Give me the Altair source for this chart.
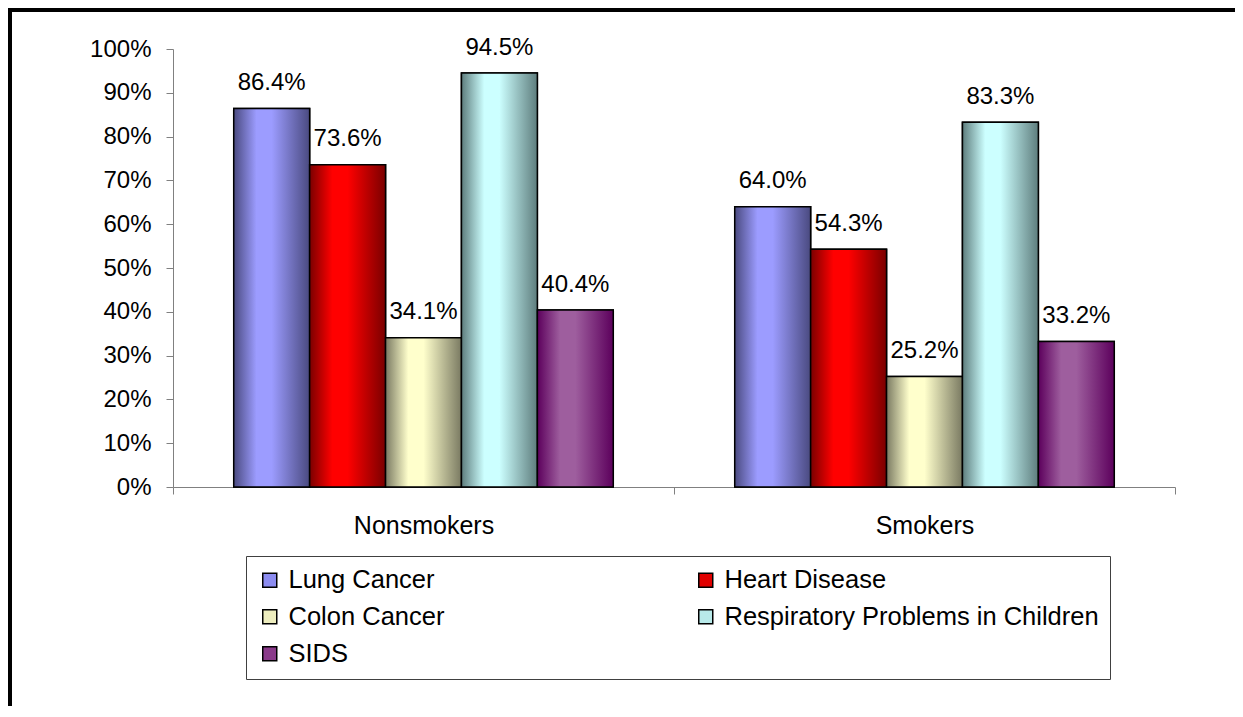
import altair as alt
import pandas as pd

groups = ["Nonsmokers", "Smokers"]
series = ["Lung Cancer", "Heart Disease", "Colon Cancer",
          "Respiratory Problems in Children", "SIDS"]
nonsmokers = [86.4, 73.6, 34.1, 94.5, 40.4]
smokers = [64.0, 54.3, 25.2, 83.3, 33.2]
y_ticks = [0, 10, 20, 30, 40, 50, 60, 70, 80, 90, 100]

legend_colors = ["#8C8CF0", "#E00000", "#EDEDBE", "#B8EAEA", "#8A3A8A"]
dark_colors = ["#4A4A80", "#7A0000", "#7A7A62", "#5E7D7D", "#5C005C"]
light_colors = ["#9C9CFF", "#FF0000", "#FFFFCC", "#CCFFFF", "#9E5E9E"]

# legend is filled column by column: put entries so rows read as in the original
legend_order = [series[0], series[2], series[4], series[1], series[3]]
legend_range = [legend_colors[series.index(s)] for s in legend_order]

rows = []
for g, vals in zip(groups, [nonsmokers, smokers]):
    for s, v in zip(series, vals):
        rows.append({"group": g, "series": s, "value": v})
df = pd.DataFrame(rows)

FONT = "Liberation Sans"
W, H = 1002, 438

x_enc = alt.X("group:N", sort=groups,
              scale=alt.Scale(paddingInner=0, paddingOuter=0),
              axis=alt.Axis(title=None, labelAngle=0, tickBand="extent",
                            tickSize=7, labelPadding=19, labelFontSize=25,
                            labelFont=FONT, labelColor="black",
                            domainColor="#808080", tickColor="#808080"))
xo_enc = alt.XOffset("series:N", sort=series,
                     scale=alt.Scale(domain=series, paddingInner=0, paddingOuter=0.8))
y_enc = alt.Y("value:Q",
              scale=alt.Scale(domain=[0, 100], nice=False),
              axis=alt.Axis(title=None, values=y_ticks, grid=False,
                            labelExpr="datum.value + '%'", tickSize=7,
                            labelPadding=15, labelFontSize=24, labelFont=FONT,
                            labelColor="black", domainColor="#808080",
                            tickColor="#808080"))

base = alt.Chart(df).encode(x=x_enc, xOffset=xo_enc, y=y_enc)

flat = base.mark_bar(stroke="black", strokeWidth=1.5).encode(
    color=alt.Color("series:N",
                    scale=alt.Scale(domain=legend_order, range=legend_range),
                    legend=alt.Legend(title=None, orient="none", legendX=73,
                                      legendY=507, columns=2, gridAlign="all",
                                      columnPadding=30, rowPadding=10,
                                      padding=11, labelFontSize=25.5,
                                      labelFont=FONT, labelColor="black",
                                      labelLimit=500, labelOffset=6,
                                      symbolType="square", symbolSize=196,
                                      symbolStrokeColor="black",
                                      symbolStrokeWidth=1.5,
                                      strokeColor="#404040",
                                      fillColor="white"))
)

layers = [flat]
for s, dk, lt in zip(series, dark_colors, light_colors):
    grad = alt.Gradient(
        gradient="linear", x1=0, x2=1, y1=0, y2=0,
        stops=[alt.GradientStop(color=dk, offset=0),
               alt.GradientStop(color=lt, offset=0.3),
               alt.GradientStop(color=lt, offset=0.5),
               alt.GradientStop(color=dk, offset=1)])
    layers.append(
        base.transform_filter(alt.datum.series == s)
        .mark_bar(fill=grad, stroke="black", strokeWidth=1.5)
    )

labels = base.transform_calculate(
    label="format(datum.value, '.1f') + '%'"
).mark_text(dy=-18.5, baseline="alphabetic", fontSize=24, font=FONT,
            color="black").encode(text="label:N")
layers.append(labels)

frame = alt.Chart(pd.DataFrame({"f": [0]})).mark_rect(
    fillOpacity=0, stroke="black", strokeWidth=4
).encode(x=alt.value(-163), x2=alt.value(W + 200),
         y=alt.value(-39), y2=alt.value(H + 400))
layers.append(frame)

chart = alt.layer(*layers).properties(
    width=W, height=H,
    padding={"left": 165, "top": 41, "right": 60, "bottom": 219},
    autosize=alt.AutoSizeParams(type="none"),
    background="white",
).configure_view(strokeWidth=0)

chart.save("out.html", embed_options={"renderer": "svg", "actions": False})
